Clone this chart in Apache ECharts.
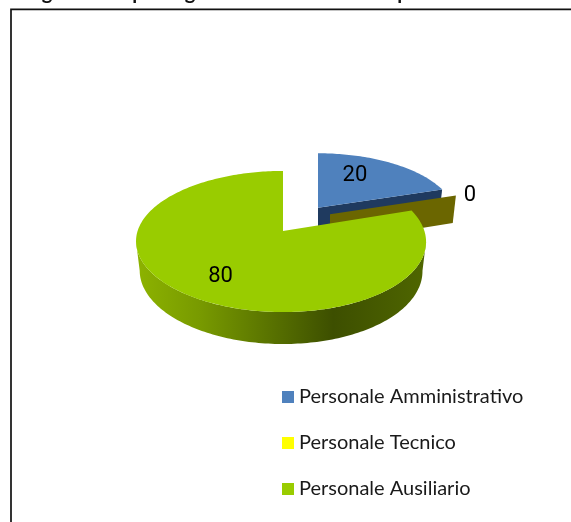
<!DOCTYPE html>
<html><head><meta charset="utf-8">
<style>html,body{margin:0;padding:0;background:#fff;overflow:hidden}#c{width:571px;height:522px}</style>
<script src="https://cdn.jsdelivr.net/npm/echarts@6/dist/echarts.min.js"></script>
</head><body><div id="c"></div>
<script>
const categories = ['Personale Amministrativo', 'Personale Tecnico', 'Personale Ausiliario'];
const values = [20, 0, 80];
const cutTitleGlyphs = ['g', 'p', 'g', 'p'];

const FONT = 'Lato, Carlito, sans-serif';
const LABEL_FONT = 'Roboto, sans-serif';
const topColors = ['#4F81BD', '#FFFF00', '#99CC00'];
const wallColors = ['#1F3A5F', '#6B6600', '#4A6000'];
const explode = [[0.257, 0.3535], [0.34, 0.25], [0, 0]];
const skew = [0, 0, 2];
const labelAnchor = [[0.5, -1, -9], [1.05, 8, 1], [0.7, 2, 3]];
const glyphX = [47, 138, 190, 403];

const cx = 283, cy = 231, R = 143.4, F = 69, K = 0.149, H = 28.9, BASE = 0.975;
function project(ex, ez, sx, sz, base, sk) {
  const Z = ez + sz, w = 1 + K * Z;
  let x = R * sx / w + R * ex / (1 + K * ez), y = -F * Z / w;
  x -= (sk || 0) * sx * sx;
  if (base) { x = x * BASE + R * ex / (1 + K * ez) * (1 - BASE); y = y * BASE + H / w; }
  return [cx + x, cy + y];
}
const total = values.reduce((a, b) => a + b, 0);
function arcPts(ex, ez, a0, a1, base, sk) {
  const pts = [], n = Math.max(1, Math.ceil((a1 - a0) / 0.02));
  for (let i = 0; i <= n; i++) {
    const t = a0 + (a1 - a0) * i / n;
    pts.push(project(ex, ez, Math.sin(t), Math.cos(t), base, sk));
  }
  return pts;
}
function renderSlice(idx) {
  return function (params, api) {
    const v = api.value(0);
    const before = values.slice(0, idx).reduce((a, b) => a + b, 0);
    const a0 = before / total * 2 * Math.PI, a1 = (before + v) / total * 2 * Math.PI;
    const [ex, ez] = explode[idx], sk = skew[idx];
    const apexT = project(ex, ez, 0, 0, false), apexB = project(ex, ez, 0, 0, true);
    const arcT = arcPts(ex, ez, a0, a1, false, sk), arcB = arcPts(ex, ez, a0, a1, true, sk);
    const children = [];
    // outer wall: only the part turned towards the viewer, between the silhouette points
    const sil = Math.acos(-K);
    const w0 = Math.max(a0, sil), w1 = Math.min(a1, 2 * Math.PI - sil);
    if (w1 > w0) {
      const wallFill = idx === 2 ? new echarts.graphic.LinearGradient(0, 0, 1, 0, [
        { offset: 0, color: '#8DB300' }, { offset: 0.22, color: '#789A00' },
        { offset: 0.68, color: '#3D4F00' }, { offset: 1, color: '#4F6600' }
      ]) : wallColors[idx];
      children.push({ type: 'polygon', shape: { points: arcPts(ex, ez, w0, w1, false, sk).concat(arcPts(ex, ez, w0, w1, true, sk).reverse()) }, style: { fill: wallFill } });
    }
    // radial face at the end angle, when it faces the viewer
    if (a1 < Math.PI) {
      const eT = arcT[arcT.length - 1], eB = arcB[arcB.length - 1];
      children.push({ type: 'polygon', shape: { points: [apexT, eT, eB, apexB] }, style: { fill: wallColors[idx] } });
    }
    // top face
    if (v > 0) {
      children.push({ type: 'polygon', shape: { points: [apexT].concat(arcT) }, style: { fill: topColors[idx] } });
    }
    // label
    const mid = (a0 + a1) / 2, la = labelAnchor[idx];
    const p = project(ex, ez, la[0] * Math.sin(mid), la[0] * Math.cos(mid), false);
    children.push({ type: 'text', z2: 100, style: { x: p[0] + la[1], y: p[1] + la[2], text: String(v), fill: '#000', font: '22px ' + LABEL_FONT, textAlign: 'center', textVerticalAlign: 'middle' } });
    return { type: 'group', children };
  };
}
const series = categories.map((name, i) => ({
  type: 'custom', name, z: i + 2, coordinateSystem: 'none', silent: true,
  legendIcon: 'rect', itemStyle: { color: topColors[i] },
  data: [[values[i]]], renderItem: renderSlice(i), animation: false
}));
const chart = echarts.init(document.getElementById('c'), null, { renderer: 'canvas' });
chart.setOption({
  animation: false, backgroundColor: '#fff',
  legend: { orient: 'vertical', left: 277, top: 382, itemWidth: 12, itemHeight: 12, itemGap: 26, icon: 'rect',
    textStyle: { fontFamily: FONT, fontSize: 20, color: '#1a1a1a' }, data: categories },
  graphic: [
    { type: 'polyline', z: 0, shape: { points: [[11, 522], [11, 9.3], [571, 9.3]] }, style: { fill: 'none', stroke: '#111', lineWidth: 1.7 } }
  ].concat(cutTitleGlyphs.map((g, i) => ({
    type: 'text', z: 0, style: { x: glyphX[i], y: -7, text: g, fill: '#111', font: 'bold 20px ' + FONT, textAlign: 'center', textVerticalAlign: 'middle' }
  }))),
  series
});
</script></body></html>
